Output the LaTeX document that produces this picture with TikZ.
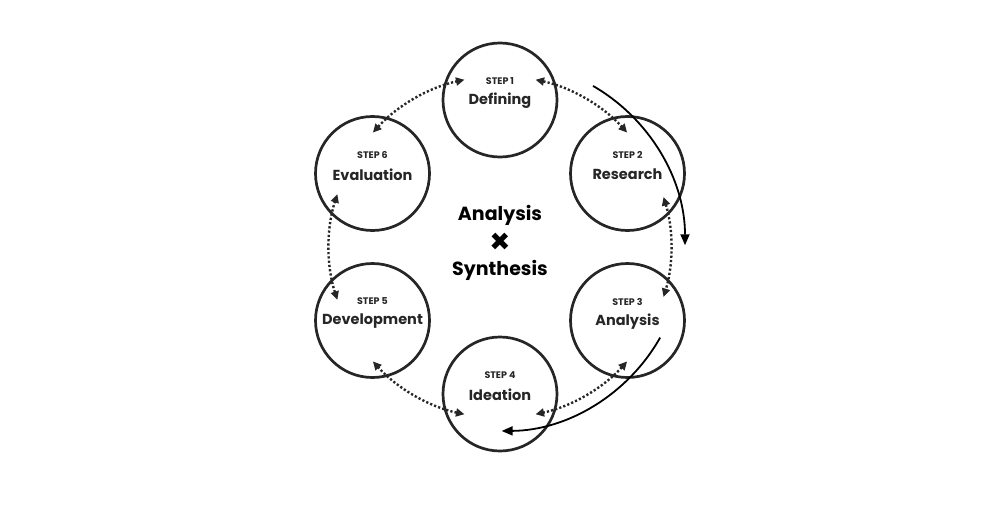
\documentclass[tikz,border=0pt]{standalone}
\usepackage{fontspec}
\setmainfont{Poppins}
\usetikzlibrary{arrows.meta}

\definecolor{ink}{HTML}{262626}

\tikzset{
  stepcircle/.style={circle,draw=ink,line width=2.7pt,minimum size=114pt,inner sep=0pt},
  steptag/.style={text=ink,font=\fontsize{9.5}{10}\selectfont\bfseries},
  stepname/.style={text=ink,font=\fontsize{14.5}{16}\selectfont\bfseries},
  bigtext/.style={text=black,font=\fontsize{19}{21}\selectfont\bfseries},
  ringarrow/.style={ink,line width=2.4pt,dash pattern=on 2.2pt off 2.1pt,
    {Triangle[length=8.5pt,width=8pt]}-{Triangle[length=8.5pt,width=8pt]}},
  flowarrow/.style={black,line width=1.8pt,-{Triangle[length=11pt,width=9pt]}}
}

\begin{document}
\begin{tikzpicture}[x=1pt,y=1pt]
\useasboundingbox (0,0) rectangle (1000,507);
\coordinate (c) at (500,260);

% the six steps
\node[stepcircle] (s1) at (500,407) {};
\node[steptag] (t1) at ([yshift=19]s1) {STEP 1};
\node[stepname] (n1) at ([yshift=-1]s1) {Defining};

\node[stepcircle] (s2) at (627.5,333.5) {};
\node[steptag] (t2) at ([yshift=19]s2) {STEP 2};
\node[stepname] (n2) at ([yshift=-1]s2) {Research};

\node[stepcircle] (s3) at (627.5,186.5) {};
\node[steptag] (t3) at ([yshift=19]s3) {STEP 3};
\node[stepname] (n3) at ([yshift=-1]s3) {Analysis};

\node[stepcircle] (s4) at (500,113) {};
\node[steptag] (t4) at ([yshift=19]s4) {STEP 4};
\node[stepname] (n4) at ([yshift=-1]s4) {Ideation};

\node[stepcircle] (s5) at (372.5,186.5) {};
\node[steptag] (t5) at ([yshift=19]s5) {STEP 5};
\node[stepname] (n5) at ([yshift=-1]s5) {Development};

\node[stepcircle] (s6) at (372.5,333.5) {};
\node[steptag] (t6) at ([yshift=19]s6) {STEP 6};
\node[stepname] (n6) at ([yshift=-1]s6) {Evaluation};

% centre
\node[bigtext] (ana) at (500,292) {Analysis};
\node[bigtext,font=\fontsize{34}{34}\selectfont\bfseries] (x) at (500,264) {×};
\node[bigtext] (syn) at (500,237) {Synthesis};

% dotted ring
\draw[ringarrow] ([shift={(78:171)}]c) arc[start angle=78,end angle=42,radius=171];
\draw[ringarrow] ([shift={(17:171)}]c) arc[start angle=17,end angle=-17,radius=171];
\draw[ringarrow] ([shift={(-42:171)}]c) arc[start angle=-42,end angle=-78,radius=171];
\draw[ringarrow] ([shift={(-102:171)}]c) arc[start angle=-102,end angle=-138,radius=171];
\draw[ringarrow] ([shift={(-162:171)}]c) arc[start angle=-162,end angle=-198,radius=171];
\draw[ringarrow] ([shift={(138:171)}]c) arc[start angle=138,end angle=102,radius=171];

% flow arrows
\draw[flowarrow] ([shift={(60:186)}]c) arc[start angle=60,end angle=0,radius=184];
\draw[flowarrow] ([shift={(-29.5:184)}]c) arc[start angle=-29.5,end angle=-89.5,radius=184];
\end{tikzpicture}
\end{document}
